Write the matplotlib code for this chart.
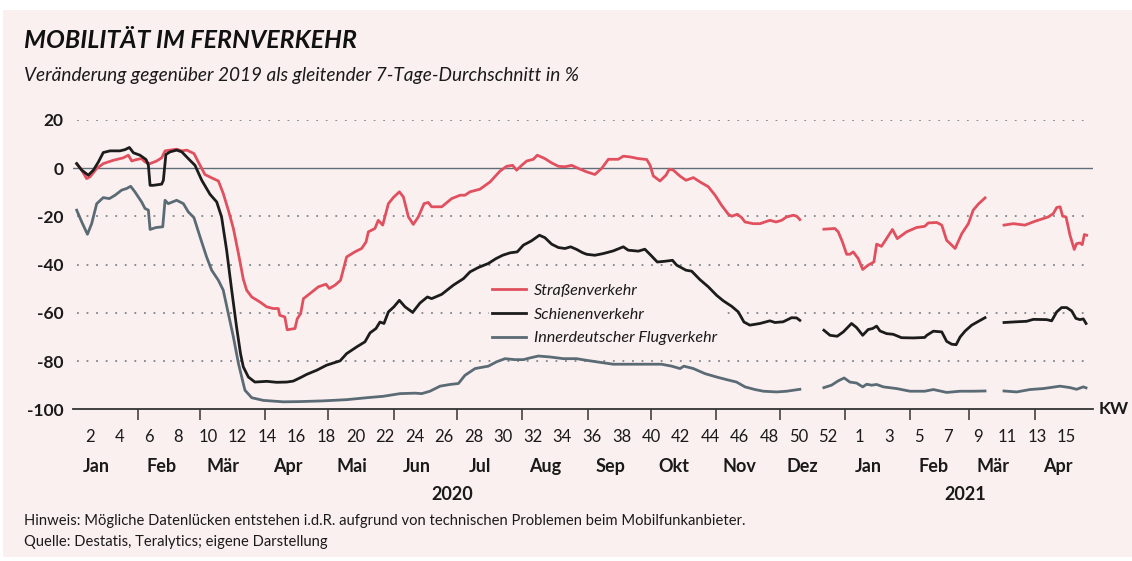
import numpy as np
import matplotlib
matplotlib.use("Agg")
from matplotlib import pyplot as plt
from matplotlib.patches import Rectangle
import datetime as dt

# day index = days since 2020-01-01, values = change vs 2019 in %
road_2020 = [(1.7, 1.9), (4.1, -0.8), (6.4, -4.3), (8, -3.6), (11.2, -0.1), (14.3, 1.9), (19.1, 3.3),
             (23.8, 4.3), (26.2, 5.4), (27.8, 3.0), (30.1, 3.6), (32.5, 4.0), (34.1, 2.6), (36.5, 1.9),
             (39.6, 3.0), (42, 4.3), (43.6, 7.2), (46, 7.5), (49.1, 7.9), (51.5, 7.2), (53.9, 7.5),
             (57.3, 6.1), (60.2, 1.2), (62.5, -2.6), (65.7, -4.0), (68.9, -5.3), (71.2, -10.5),
             (73.6, -17.4), (76, -25), (78.4, -35.4), (80.7, -46), (82.3, -50.6), (84.7, -53.4),
             (88.6, -55.5), (91.8, -57.5), (94.9, -58.2), (97.3, -58.2), (98, -61), (100.4, -61.7),
             (101.5, -67), (105.2, -66.5), (106.3, -62.4), (107.9, -60.3), (109.2, -54.1), (112.3, -52),
             (116.3, -49.2), (119.9, -48.1), (121.5, -49.9), (124.2, -48.5), (126.8, -46.5),
             (129.7, -36.8), (133.6, -34.7), (136.8, -33.3), (138.9, -30.6), (140, -26.4), (143.1, -25),
             (144.7, -21.6), (146.8, -23.6), (149.5, -14.7), (151.8, -12.2), (154.7, -9.8),
             (156.6, -11.9), (159, -20.2), (161.3, -23.3), (163.7, -20.2), (166.4, -14.7),
             (168.4, -14.2), (170, -16), (174.8, -16), (179.5, -12.6), (183.5, -11.2), (185.8, -11.2),
             (188.2, -9.8), (192.9, -8.7), (197.7, -5.7), (202.4, -1.2), (205.6, 0.8), (208.4, 1.2),
             (210.3, -0.8), (212.7, 1.2), (215.1, 3), (218.2, 3.7), (220.1, 5.4), (223.7, 4),
             (226.9, 2.2), (230.1, 0.8), (233.2, 0.6), (236.4, 1.2), (239.6, -0.1), (243.5, -1.5),
             (247.4, -2.6), (250.6, -0.1), (253.8, 3.7), (258.5, 3.7), (260.9, 5), (264, 4.7),
             (268, 4), (272, 3.6), (273.6, 1.2), (275.1, -3.2), (278.3, -5.3), (281.1, -2.9),
             (282.7, -0.4), (284.6, -0.8), (287.8, -3.3), (290.6, -5), (294.1, -3.9), (297.3, -5.7),
             (301.2, -7.7), (304.4, -11.2), (307.5, -15.4), (310.7, -19.1), (312.3, -19.9), (315, -19.1),
             (317, -20.5), (318.6, -22.3), (322.5, -23), (325.7, -23), (330.4, -21.6), (333.3, -22.3),
             (336, -21.6), (338.3, -20.2), (341.5, -19.5), (343.1, -19.9), (344.6, -21.3)]
road_2021a = [(356, -25.3), (361.2, -25), (362.8, -26.4), (364.8, -30.6), (366.8, -35.7), (368.3, -35.7),
              (369.9, -34.7), (372.3, -37.5), (374.4, -42), (377, -40.2), (379.7, -38.9), (381, -31.5),
              (383.3, -32.4), (385.7, -29.2), (388.5, -25.4), (390.8, -29.2), (395.2, -26.4),
              (399.9, -24.6), (403.8, -24.1), (405.5, -22.7), (409.5, -22.5), (411.9, -23.6),
              (414.2, -29.9), (416.6, -31.9), (418.2, -33.3), (421.4, -27.1), (424.5, -23),
              (426.8, -17.4), (429.2, -14.9), (432.4, -12.3)]
road_2021b = [(441.4, -23.6), (445.8, -23), (451.3, -23.6), (456.1, -22), (462.4, -20.2), (464.8, -18.8),
              (466.4, -16.3), (468, -16), (469.2, -19.9), (470.8, -20.2), (472.7, -27.8), (474.7, -33.7),
              (475.8, -31.3), (477.4, -31), (478.5, -31.7), (479.5, -27.5), (480.6, -27.8)]

rail_2020 = [(1.7, 1.9), (4.1, -0.8), (7.2, -2.9), (9.6, -0.8), (12, 2.6), (14.3, 6.5), (17.5, 7.2),
             (22.2, 7.2), (24.6, 7.7), (26.7, 8.6), (28.6, 6.4), (31.7, 5.4), (34.6, 3.6), (35.7, 1.2),
             (36.5, -7.1), (38, -7.1), (42, -6.6), (42.8, -5), (44, 5.7), (46, 6.8), (49.1, 7.5),
             (51.5, 6.8), (54.6, 4), (57.8, 1.2), (61, -5), (64.9, -10.8), (68.1, -14), (70.4, -20.2),
             (72.8, -34), (75.2, -50.6), (77.5, -65.8), (79.4, -77), (80.7, -82.4), (83.1, -86.6),
             (86.2, -88.7), (91.8, -88.4), (96.5, -88.8), (101.3, -88.7), (104.4, -88.3), (108.4, -86.6),
             (110.8, -85.5), (115.5, -83.8), (120.2, -81.7), (126.6, -79.9), (129.7, -76.9),
             (134.5, -74.1), (138.4, -72), (140.8, -68.3), (143.6, -66.5), (145.5, -63.8), (147.4, -64.4),
             (149.5, -59.6), (152.1, -57.5), (154.7, -54.8), (157.4, -57.5), (161, -59.8), (164.5, -55.9),
             (168, -53.4), (170, -54.1), (174.8, -52.3), (180.3, -48.5), (185.1, -45.8), (188.2, -43),
             (192.1, -41.2), (196.9, -39.5), (200.5, -37.5), (203.7, -36.1), (207.2, -35.1),
             (210.6, -34.7), (213.5, -31.9), (217.4, -30.1), (221.1, -27.8), (223.7, -28.8),
             (226.9, -31.5), (230.1, -32.9), (233.2, -33.3), (235.9, -32.6), (238.8, -33.7),
             (241.5, -35), (243.5, -35.7), (247.4, -36.1), (251.4, -35.4), (256.1, -34.3), (260.9, -32.6),
             (263.2, -34), (268, -34.4), (271.1, -33.6), (273.5, -35.7), (277, -38.9), (280.6, -38.6),
             (284.2, -38.2), (286.2, -40.2), (290.6, -42.3), (293.3, -42.7), (297.2, -46.2),
             (301.2, -49.2), (305.1, -52.7), (308.3, -55), (312.3, -57.3), (315.4, -59.6), (318.1, -63.8),
             (320.9, -65.1), (325.7, -64.4), (330.4, -63.3), (332.8, -64), (336.7, -63.7), (340.7, -62),
             (343.1, -62.1), (344.6, -63.1)]
rail_2021a = [(356, -67.2), (358.9, -69.3), (362.3, -69.7), (365.2, -67.9), (369.1, -64.4), (371.5, -66.1),
              (374.4, -69.3), (377, -66.9), (379.1, -66.5), (381, -65.5), (382.6, -67.5), (385.7, -68.6),
              (388.9, -68.9), (392.8, -70.3), (398.4, -70.4), (403.8, -70.2), (404.8, -69.3),
              (407.9, -67.6), (411.9, -67.9), (414.2, -71.8), (416.6, -73), (418.7, -73.2), (420.6, -70),
              (423, -67.5), (426.1, -65.1), (428.5, -63.9), (432.4, -62)]
rail_2021b = [(441.4, -64), (447.4, -63.7), (452.1, -63.5), (455.3, -62.7), (461.6, -62.8), (464, -63.3),
              (466.4, -59.6), (468.7, -57.8), (471.1, -57.8), (473.5, -59.2), (475.5, -62.3),
              (477.4, -62.8), (479, -62.5), (480.3, -64.4)]

air_2020 = [(1.7, -17.4), (4.1, -22.3), (6.8, -27.4), (8.8, -23), (11.2, -14.7), (14.3, -12.2), (17.2, -12.6),
            (19.9, -11.2), (23, -9.1), (25.4, -8.4), (27.3, -7.5), (29.3, -9.8), (32.5, -14), (34.1, -16.7),
            (35.7, -17.4), (36.5, -25.4), (39.3, -24.6), (42.5, -24.3), (43.6, -13.3), (45.1, -14.7),
            (49.1, -13.3), (52.3, -14.7), (54.6, -18.1), (57.3, -20.5), (60.2, -28.5), (63.3, -36.8),
            (65.7, -42.3), (68.9, -46.5), (71.2, -50.6), (73.6, -60.3), (76, -70), (78.4, -81),
            (80.7, -89.3), (81.5, -92.1), (84.7, -95.2), (90.2, -96.3), (99.7, -96.9), (107.6, -96.8),
            (118.7, -96.5), (129.7, -96), (139.2, -95.2), (147.1, -94.6), (155, -93.5), (162.1, -93.3),
            (165.3, -93.5), (169.2, -92.5), (174, -90.4), (178.7, -89.7), (182.7, -89.3), (185.8, -85.9),
            (190.6, -83.1), (196.9, -82.1), (200.8, -80.3), (204.8, -79), (209.5, -79.4), (213.5, -79.4),
            (216.6, -78.7), (220.6, -77.9), (226.2, -78.3), (232.5, -79), (238.8, -79), (242.8, -79.6),
            (248.2, -80.3), (256.1, -81.3), (264, -81.3), (271.9, -81.3), (279, -81.3), (283.8, -82.1),
            (287.8, -83.1), (289.6, -82.1), (294.1, -83.1), (299.6, -85.2), (305.1, -86.6),
            (309.9, -87.7), (314.6, -88.7), (318.6, -90.7), (323.3, -91.8), (327.3, -92.5),
            (333.6, -92.8), (338.4, -92.5), (344.6, -91.7)]
air_2021a = [(356, -91), (359.6, -90), (362.8, -88.2), (365.6, -87), (368.3, -88.7), (371.5, -89.1),
             (374.4, -90.7), (376.3, -89.6), (378.6, -90), (381, -89.7), (384.2, -90.7), (390.5, -91.4),
             (396.8, -92.5), (403.8, -92.5), (407.9, -91.8), (414.2, -93), (420.6, -92.5), (426.8, -92.5),
             (432.4, -92.4)]
air_2021b = [(441.4, -92.4), (447.4, -92.8), (453.7, -91.8), (460, -91.4), (468, -90.4), (472.7, -91),
             (475.8, -91.7), (479, -90.7), (480.3, -91.1)]

series_names = ["Straßenverkehr", "Schienenverkehr", "Innerdeutscher Flugverkehr"]
month_names = ["Jan", "Feb", "Mär", "Apr", "Mai", "Jun", "Jul", "Aug", "Sep", "Okt", "Nov", "Dez",
               "Jan", "Feb", "Mär", "Apr"]
kw_2020 = list(range(2, 53, 2))
kw_2021 = list(range(1, 16, 2))

BG = "#fbf0f0"
RED = "#e0505e"
BLACK = "#1c1c1c"
GREY = "#5b6b75"
FONT = "Lato"

plt.rcParams["font.family"] = [FONT, "DejaVu Sans"]

W, H = 1132, 561
fig = plt.figure(figsize=(W / 100, H / 100), dpi=100)
fig.patch.set_facecolor("white")
fig.patches.append(Rectangle((3 / W, 4 / H), 1, 1 - 14 / H, transform=fig.transFigure,
                             facecolor=BG, edgecolor="none", zorder=-10))

ax_l, ax_r, ax_t, ax_b = 73.1, 1093, 120, 409.3
ax = fig.add_axes([ax_l / W, 1 - ax_b / H, (ax_r - ax_l) / W, (ax_b - ax_t) / H])
ax.set_facecolor("none")
ax.set_xlim(0, 483.6)
ax.set_ylim(-100, 20)

for s in ["top", "right", "left"]:
    ax.spines[s].set_visible(False)
ax.spines["bottom"].set_color("#333333")
ax.spines["bottom"].set_linewidth(1.3)

for g in [20, -20, -40, -60, -80]:
    ax.axhline(g, xmin=0.004, xmax=0.995, color="#7d868c", lw=1.3, ls=(0, (1, 4.3)), zorder=1)
ax.axhline(0, color="#5f6f7a", lw=1.0, zorder=1)


def draw(segments, color, label):
    for i, seg in enumerate(segments):
        d, v = zip(*seg)
        ax.plot(d, v, color=color, lw=2.0, solid_joinstyle="round", zorder=3,
                label=label if i == 0 else None)


draw([road_2020, road_2021a, road_2021b], RED, series_names[0])
draw([rail_2020, rail_2021a, rail_2021b], BLACK, series_names[1])
draw([air_2020, air_2021a, air_2021b], GREY, series_names[2])

# y axis
ax.set_yticks([20, 0, -20, -40, -60, -80, -100])
ax.set_yticklabels(["20", "0", "-20", "-40", "-60", "-80", "-100"], fontweight="bold", fontsize=12.5,
                   color="#1a1a1a")
ax.tick_params(axis="y", length=0, pad=7)

# month ticks
base = dt.date(2020, 1, 1)
month_starts = []
for k in range(16):
    y, m = 2020 + k // 12, k % 12 + 1
    month_starts.append((dt.date(y, m, 1) - base).days)
ax.set_xticks(month_starts[1:])
ax.set_xticklabels([])
ax.tick_params(axis="x", direction="out", length=8, width=1.1, color="#333333")

tr = ax.get_xaxis_transform()
for kw in kw_2020:
    ax.text(1 + 7 * (kw - 1), -0.096, str(kw), transform=tr, ha="center", va="center",
            fontsize=12, color="#1a1a1a")
for kw in kw_2021:
    ax.text(373 + 7 * (kw - 1), -0.096, str(kw), transform=tr, ha="center", va="center",
            fontsize=12, color="#1a1a1a")
for ms, name in zip(month_starts, month_names):
    ax.text(ms + 11, -0.196, name, transform=tr, ha="center", va="center",
            fontsize=13, fontweight="bold", color="#1a1a1a")
ax.text(180, -0.296, "2020", transform=tr, ha="center", va="center", fontsize=13,
        fontweight="bold", color="#1a1a1a")
ax.text(423, -0.296, "2021", transform=tr, ha="center", va="center", fontsize=13,
        fontweight="bold", color="#1a1a1a")
ax.text(1.006, 0, "KW", transform=ax.transAxes, ha="left", va="center", fontsize=12.5,
        fontweight="bold", color="#1a1a1a")

leg = ax.legend(loc="upper left", bbox_to_anchor=(0.408, 0.445), frameon=True, facecolor=BG,
                edgecolor="none", framealpha=1, fancybox=False, handlelength=2.1,
                handletextpad=0.5, labelspacing=0.58, borderpad=0.2, borderaxespad=0,
                prop={"family": FONT, "style": "italic", "size": 11.6})
for t in leg.get_texts():
    t.set_color("#1a1a1a")
leg.set_zorder(2)

fig.text(24 / W, 1 - 40 / H, "MOBILITÄT IM FERNVERKEHR", fontsize=18, fontweight="bold",
         fontstyle="italic", va="center", ha="left", color="#111111")
fig.text(24 / W, 1 - 76 / H, "Veränderung gegenüber 2019 als gleitender 7-Tage-Durchschnitt in %",
         fontsize=13.7, fontstyle="italic", va="center", ha="left", color="#1a1a1a")
fig.text(24 / W, 1 - 521 / H,
         "Hinweis: Mögliche Datenlücken entstehen i.d.R. aufgrund von technischen Problemen beim Mobilfunkanbieter.",
         fontsize=10.6, va="center", ha="left", color="#1a1a1a")
fig.text(24 / W, 1 - 542 / H, "Quelle: Destatis, Teralytics; eigene Darstellung",
         fontsize=10.6, va="center", ha="left", color="#1a1a1a")

fig.savefig("out.png", dpi=100, facecolor=fig.get_facecolor())
